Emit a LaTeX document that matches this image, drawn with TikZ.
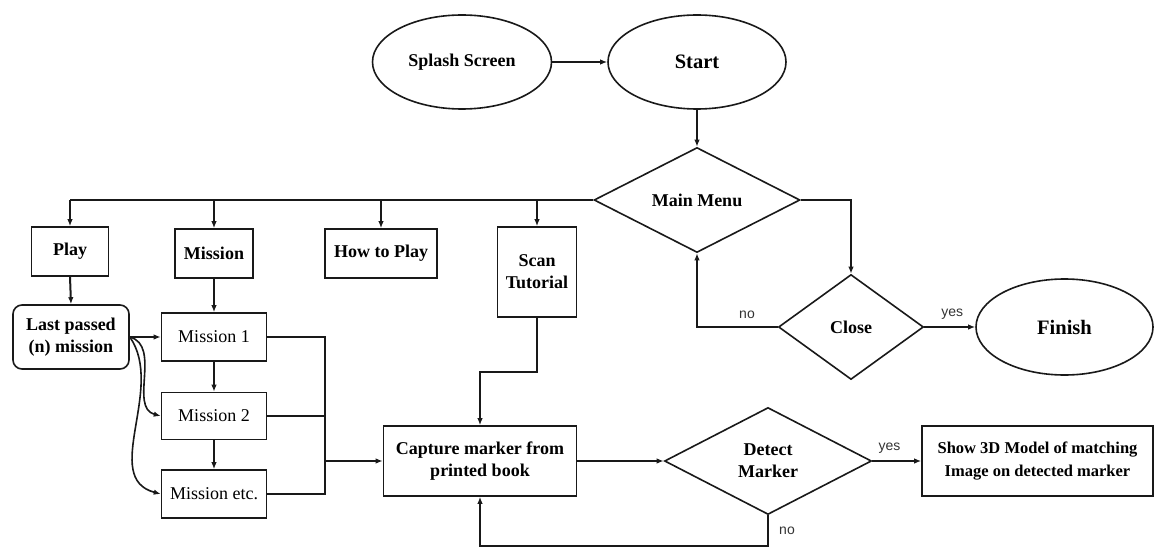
\documentclass[tikz,border=0pt]{standalone}
\usepackage{fontspec}
\setmainfont{Liberation Serif}
\newfontfamily\lsans{Liberation Sans}
\usetikzlibrary{shapes.geometric,arrows.meta,calc}
\tikzset{
  base/.style={draw=black!90, line width=1.6pt, inner sep=0pt, align=center, font=\fontsize{18}{22}\selectfont\bfseries},
  oval/.style={base, ellipse},
  dia/.style={base, diamond},
  box/.style={base, rectangle},
  rbox/.style={base, rectangle, rounded corners=9pt},
  plainbox/.style={box, font=\fontsize{18}{22}\selectfont},
  conn/.style={draw=black!90, line width=2pt, -{Latex[length=7pt,width=5.5pt]}},
  wire/.style={draw=black!90, line width=2pt},
  lbl/.style={font=\lsans\fontsize{14}{16}\selectfont, text=black!80, inner sep=0pt}
}
\begin{document}
\begin{tikzpicture}[x=1pt,y=-1pt]
\useasboundingbox (0,0) rectangle (1155,548);
% nodes
\node[oval, minimum width=179pt, minimum height=94pt] (splash) at (462,62) {Splash Screen};
\node[oval, minimum width=178pt, minimum height=94pt, font=\fontsize{20.5}{24}\selectfont\bfseries] (start) at (697,62) {Start};
\node[dia, minimum width=206pt, minimum height=105pt] (menu) at (697,200) {Main Menu};
\node[box, minimum width=77pt, minimum height=49pt] (play) at (70,251.5) {Play};
\node[box, minimum width=78pt, minimum height=49pt] (mission) at (214,253.5) {Mission};
\node[box, minimum width=112pt, minimum height=49pt] (howto) at (381,253.5) {How to Play};
\node[box, minimum width=79pt, minimum height=90pt] (scan) at (537,272) {Scan\\Tutorial};
\node[rbox, minimum width=116pt, minimum height=64pt] (last) at (71,337) {Last passed\\(n) mission};
\node[plainbox, minimum width=105pt, minimum height=48pt] (m1) at (214,337) {Mission 1};
\node[plainbox, minimum width=105pt, minimum height=47pt] (m2) at (214,416) {Mission 2};
\node[plainbox, minimum width=105pt, minimum height=48pt] (metc) at (214,494) {Mission etc.};
\node[box, minimum width=193pt, minimum height=70pt] (capture) at (480,461) {Capture marker from\\printed book};
\node[dia, minimum width=207pt, minimum height=107pt] (detect) at (768,461) {Detect\\Marker};
\node[box, minimum width=231pt, minimum height=70pt, font=\fontsize{16.5}{23}\selectfont\bfseries] (show) at (1037.5,461) {Show 3D Model of matching\\Image on detected marker};
\node[dia, minimum width=145pt, minimum height=105pt] (close) at (851,327) {Close};
\node[oval, minimum width=177pt, minimum height=96pt, font=\fontsize{20.5}{24}\selectfont\bfseries] (finish) at (1064.5,327) {Finish};
% helper coordinates
\coordinate (bus) at (70,200);
\coordinate (merge) at (325,461);
\coordinate (sbend) at (480,372);
\coordinate (dbottom) at (768,546);
% connectors
\draw[conn] (splash.east) -- (start.west);
\draw[conn] (start.south) -- (menu.north);
\draw[wire] (menu.west) -- (bus);
\draw[conn] (bus) -- (play.north);
\draw[conn] (mission.north |- bus) -- (mission.north);
\draw[conn] (howto.north |- bus) -- (howto.north);
\draw[conn] (scan.north |- bus) -- (scan.north);
\draw[conn] (play.south) -- (last.north);
\draw[conn] (mission.south) -- (m1.north);
\draw[conn] (m1.south) -- (m2.north);
\draw[conn] (m2.south) -- (metc.north);
\draw[conn] (last.east) -- (m1.west);
\draw[conn, line width=1.6pt] (last.east) to[out=-15, in=165] (m2.west);
\draw[conn, line width=1.6pt] (last.east) to[out=-55, in=165] (metc.west);
\draw[wire] (m1.east) -| (merge);
\draw[wire] (m2.east) -| (merge);
\draw[wire] (metc.east) -| (merge);
\draw[conn] (merge) -- (capture.west);
\draw[conn] (scan.south) |- (sbend) -- (capture.north);
\draw[conn] (capture.east) -- (detect.west);
\draw[conn] (detect.east) -- node[lbl, above=7pt, pos=0.35] {yes} (show.west);
\draw[conn] (detect.south) -- (dbottom) -| (capture.south);
\node[lbl] (dno) at (787,531) {no};
\draw[conn] (menu.east) -| (close.north);
\draw[conn] (close.west) -| (menu.south);
\node[lbl] (cno) at (747,315) {no};
\draw[conn] (close.east) -- node[lbl, above=7pt, pos=0.55] {yes} (finish.west);
\end{tikzpicture}
\end{document}
